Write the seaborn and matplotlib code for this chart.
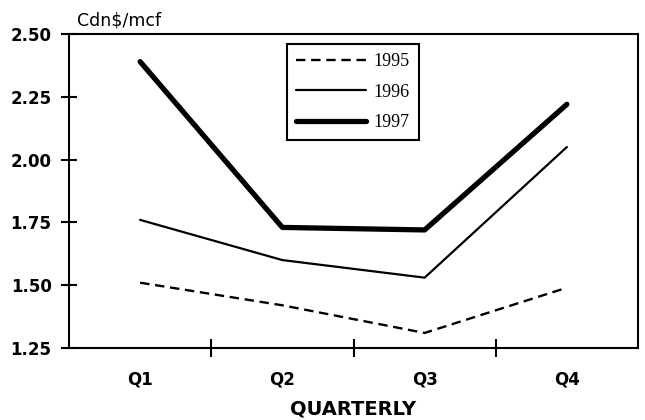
import matplotlib
matplotlib.use("Agg")
import matplotlib.pyplot as plt
import seaborn as sns
import pandas as pd
from matplotlib.lines import Line2D

# Quarterly gas prices, Cdn$/mcf
quarters = ["Q1", "Q2", "Q3", "Q4"]
years = ["1995", "1996", "1997"]
price_1995 = [1.51, 1.42, 1.31, 1.49]
price_1996 = [1.76, 1.60, 1.53, 2.05]
price_1997 = [2.39, 1.73, 1.72, 2.22]
y_ticks = [1.25, 1.50, 1.75, 2.00, 2.25, 2.50]

df = pd.DataFrame({
    "quarter": quarters * 3,
    "year": [y for y in years for _ in quarters],
    "price": price_1995 + price_1996 + price_1997,
})

sns.set_style("white")
plt.rcParams["font.family"] = ["DejaVu Sans"]
plt.rcParams["text.color"] = "black"
plt.rcParams["axes.labelcolor"] = "black"
plt.rcParams["xtick.color"] = "black"
plt.rcParams["ytick.color"] = "black"

fig = plt.figure(figsize=(6.45, 4.2), dpi=100)
ax = fig.add_axes([69 / 645, 1 - 348 / 420, (638 - 69) / 645, (348 - 34) / 420])

widths = {"1995": 1.7, "1996": 1.6, "1997": 3.8}
dash_map = {"1995": (4, 2.4), "1996": "", "1997": ""}
sns.lineplot(data=df, x="quarter", y="price", hue="year", style="year",
             size="year", sizes=widths, dashes=dash_map,
             palette={y: "black" for y in years}, legend=False, ax=ax,
             sort=False)
for ln in ax.get_lines():
    ln.set_solid_capstyle("round")

ax.set_xlim(-0.5, 3.5)
ax.set_ylim(1.25, 2.50)
ax.set_yticks(y_ticks)
ax.set_yticklabels([f"{v:.2f}" for v in y_ticks], fontsize=12, fontweight="bold")
ax.set_xticks(range(len(quarters)))
ax.set_xticklabels(quarters, fontsize=12, fontweight="bold")
ax.set_xticks([0.5, 1.5, 2.5], minor=True)
ax.tick_params(axis="x", which="major", length=0, pad=16)
ax.tick_params(axis="x", which="minor", direction="inout", length=13, width=1.5,
               color="black", bottom=True)
ax.tick_params(axis="y", which="major", direction="inout", length=12, width=1.5,
               color="black", left=True, pad=6.5)
ax.set_xlabel("QUARTERLY", fontsize=14, fontweight="bold", labelpad=8)
ax.set_ylabel("")
for s in ax.spines.values():
    s.set_visible(True)
    s.set_color("black")
    s.set_linewidth(1.5)

fig.text(77 / 645, 1 - 20 / 420, "Cdn$/mcf", fontsize=12.5, ha="left", va="center")

handles = [
    Line2D([], [], color="black", lw=1.7, dashes=(4, 2.4)),
    Line2D([], [], color="black", lw=1.6),
    Line2D([], [], color="black", lw=3.8),
]
leg = ax.legend(handles, years, loc="upper left",
                bbox_to_anchor=((287 - 69) / 569, (348 - 44) / 314),
                borderaxespad=0, frameon=True, fancybox=False, framealpha=1,
                handlelength=3.9, handletextpad=0.4, labelspacing=0.75,
                borderpad=0.5, prop={"family": "Liberation Serif", "size": 13})
leg.get_frame().set_edgecolor("black")
leg.get_frame().set_linewidth(1.5)

fig.savefig("out.png", dpi=100)
